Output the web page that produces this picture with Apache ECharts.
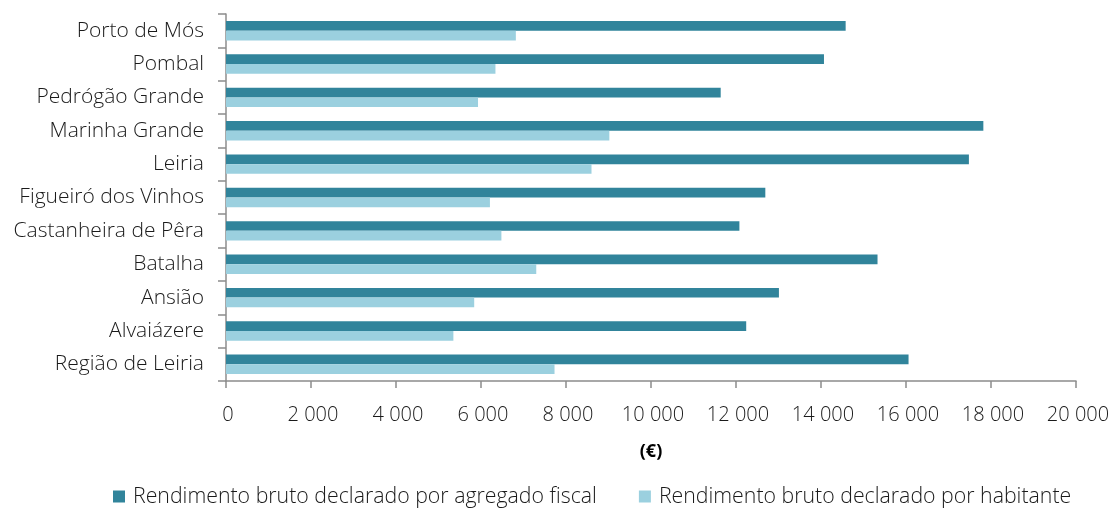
<!DOCTYPE html>
<html>
<head>
<meta charset="utf-8">
<script src="https://cdn.jsdelivr.net/npm/echarts@6/dist/echarts.min.js"></script>
<style>
  html, body { margin: 0; padding: 0; background: #fff; }
  #chart { width: 1115px; height: 508px; }
</style>
</head>
<body>
<div id="chart"></div>
<script>
// concelhos, de cima para baixo
let municipios = ['Porto de Mós', 'Pombal', 'Pedrógão Grande', 'Marinha Grande', 'Leiria',
  'Figueiró dos Vinhos', 'Castanheira de Pêra', 'Batalha', 'Ansião', 'Alvaiázere', 'Região de Leiria'];
let porAgregado = [14580, 14070, 11640, 17820, 17480, 12690, 12080, 15330, 13010, 12240, 16060];
let porHabitante = [6820, 6340, 5930, 9020, 8600, 6210, 6480, 7300, 5840, 5350, 7730];
let xTicks = [0, 2000, 4000, 6000, 8000, 10000, 12000, 14000, 16000, 18000, 20000];

let cores = ['#31849B', '#9BD0DF'];
let fonte = '"Open Sans", sans-serif';
let corTexto = '#1a1a1a';

let chart = echarts.init(document.getElementById('chart'));

let fmt = function (v) {
  // separador de milhares com espaço
  return String(v).replace(/\B(?=(\d{3})+(?!\d))/g, ' ');
};

chart.setOption({
  backgroundColor: '#fff',
  animation: false,
  color: cores,
  textStyle: { fontFamily: fonte },
  grid: { left: 226, right: 39, top: 14, bottom: 127, containLabel: false },
  legend: {
    left: 108,
    top: 481,
    itemWidth: 12,
    itemHeight: 12,
    itemGap: 42,
    icon: 'rect',
    textStyle: { fontFamily: fonte, fontSize: 21.3, color: corTexto, fontWeight: 300, padding: [0, 0, 0, 3] },
    data: ['Rendimento bruto declarado por agregado fiscal', 'Rendimento bruto declarado por habitante']
  },
  xAxis: {
    type: 'value',
    min: xTicks[0],
    max: xTicks[xTicks.length - 1],
    interval: 2000,
    name: '(€)',
    nameLocation: 'middle',
    nameGap: 62,
    nameTextStyle: { fontFamily: fonte, fontSize: 18, fontWeight: 'bold', color: '#000' },
    axisLine: { show: true, lineStyle: { color: '#8c8c8c', width: 1.5 } },
    axisTick: { show: true, length: 7, lineStyle: { color: '#8c8c8c', width: 1.5 } },
    axisLabel: {
      margin: 24,
      fontSize: 20,
      color: corTexto,
      fontWeight: 300,
      padding: [0, 0, 0, 4],
      formatter: fmt
    },
    splitLine: { show: false }
  },
  yAxis: {
    type: 'category',
    inverse: true,
    data: municipios,
    axisLine: { show: true, lineStyle: { color: '#8c8c8c', width: 1.5 } },
    axisTick: { show: true, inside: false, length: 8, lineStyle: { color: '#8c8c8c', width: 1.5 } },
    axisLabel: { margin: 22, fontSize: 21, color: corTexto, fontWeight: 300 }
  },
  series: [
    {
      name: 'Rendimento bruto declarado por agregado fiscal',
      type: 'bar',
      data: porAgregado,
      barWidth: 9.7,
      barGap: '0%',
      itemStyle: { color: cores[0] }
    },
    {
      name: 'Rendimento bruto declarado por habitante',
      type: 'bar',
      data: porHabitante,
      barWidth: 9.7,
      barGap: '0%',
      itemStyle: { color: cores[1] }
    }
  ]
});
</script>
</body>
</html>
